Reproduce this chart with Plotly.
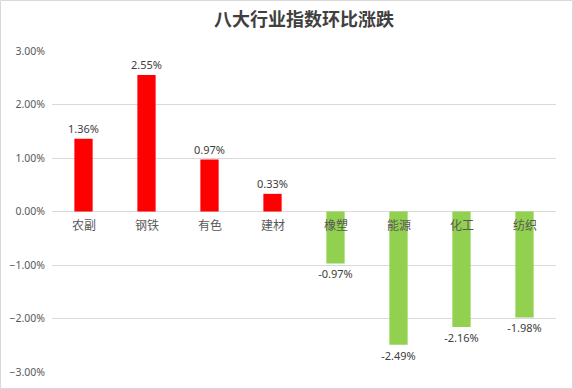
import plotly.graph_objects as go

categories = ["农副", "钢铁", "有色", "建材", "橡塑", "能源", "化工", "纺织"]
values = [0.0136, 0.0255, 0.0097, 0.0033, -0.0097, -0.0249, -0.0216, -0.0198]
labels = ["1.36%", "2.55%", "0.97%", "0.33%", "-0.97%", "-2.49%", "-2.16%", "-1.98%"]
colors = ["#FF0000" if v >= 0 else "#92D050" for v in values]

W, H = 573, 389
ml, mr, mt, mb = 52, 17, 51, 17
pw = W - ml - mr
ph = H - mt - mb

fig = go.Figure()
fig.add_trace(go.Bar(
    x=categories, y=values, marker_color=colors, marker_line_width=0,
    text=labels, textposition="outside", cliponaxis=False, constraintext="none",
    textfont=dict(family="Noto Sans, Noto Sans CJK SC", size=11, color="#404040"),
))

for c in categories:
    fig.add_annotation(x=c, y=0, text=c, showarrow=False, yanchor="top", yshift=-2,
                       font=dict(family="Noto Sans CJK SC", size=12, color="#595959"))

fig.add_shape(type="rect", xref="paper", yref="paper",
              x0=(-ml + 0.5) / pw, x1=(W - ml - 0.5) / pw,
              y0=(-mb + 0.5) / ph, y1=(H - mb - 0.5) / ph,
              line=dict(color="#D9D9D9", width=1), layer="below")

fig.update_layout(
    width=W, height=H,
    margin=dict(l=ml, r=mr, t=mt, b=mb, autoexpand=False),
    paper_bgcolor="white", plot_bgcolor="white",
    title=dict(text="八大行业指数环比涨跌", x=0.5, xref="paper", xanchor="center", y=1 - 20 / H, yanchor="middle",
               font=dict(family="Noto Sans CJK SC", size=18, color="#404040", weight="bold")),
    bargap=0.71,
    showlegend=False,
    xaxis=dict(showticklabels=False, showgrid=False, zeroline=False, showline=False, automargin=False),
    yaxis=dict(range=[-0.03, 0.03], dtick=0.01, tickformat=".2%", gridcolor="#D9D9D9",
               zeroline=True, zerolinecolor="#D9D9D9", zerolinewidth=1, automargin=False,
               tickfont=dict(family="Noto Sans, Liberation Sans", size=10.5, color="#595959"),
               ticks="", ticklabelstandoff=6),
)

fig.write_html("out.html", config={"displayModeBar": False},
               post_script="document.body.style.margin='0';")
